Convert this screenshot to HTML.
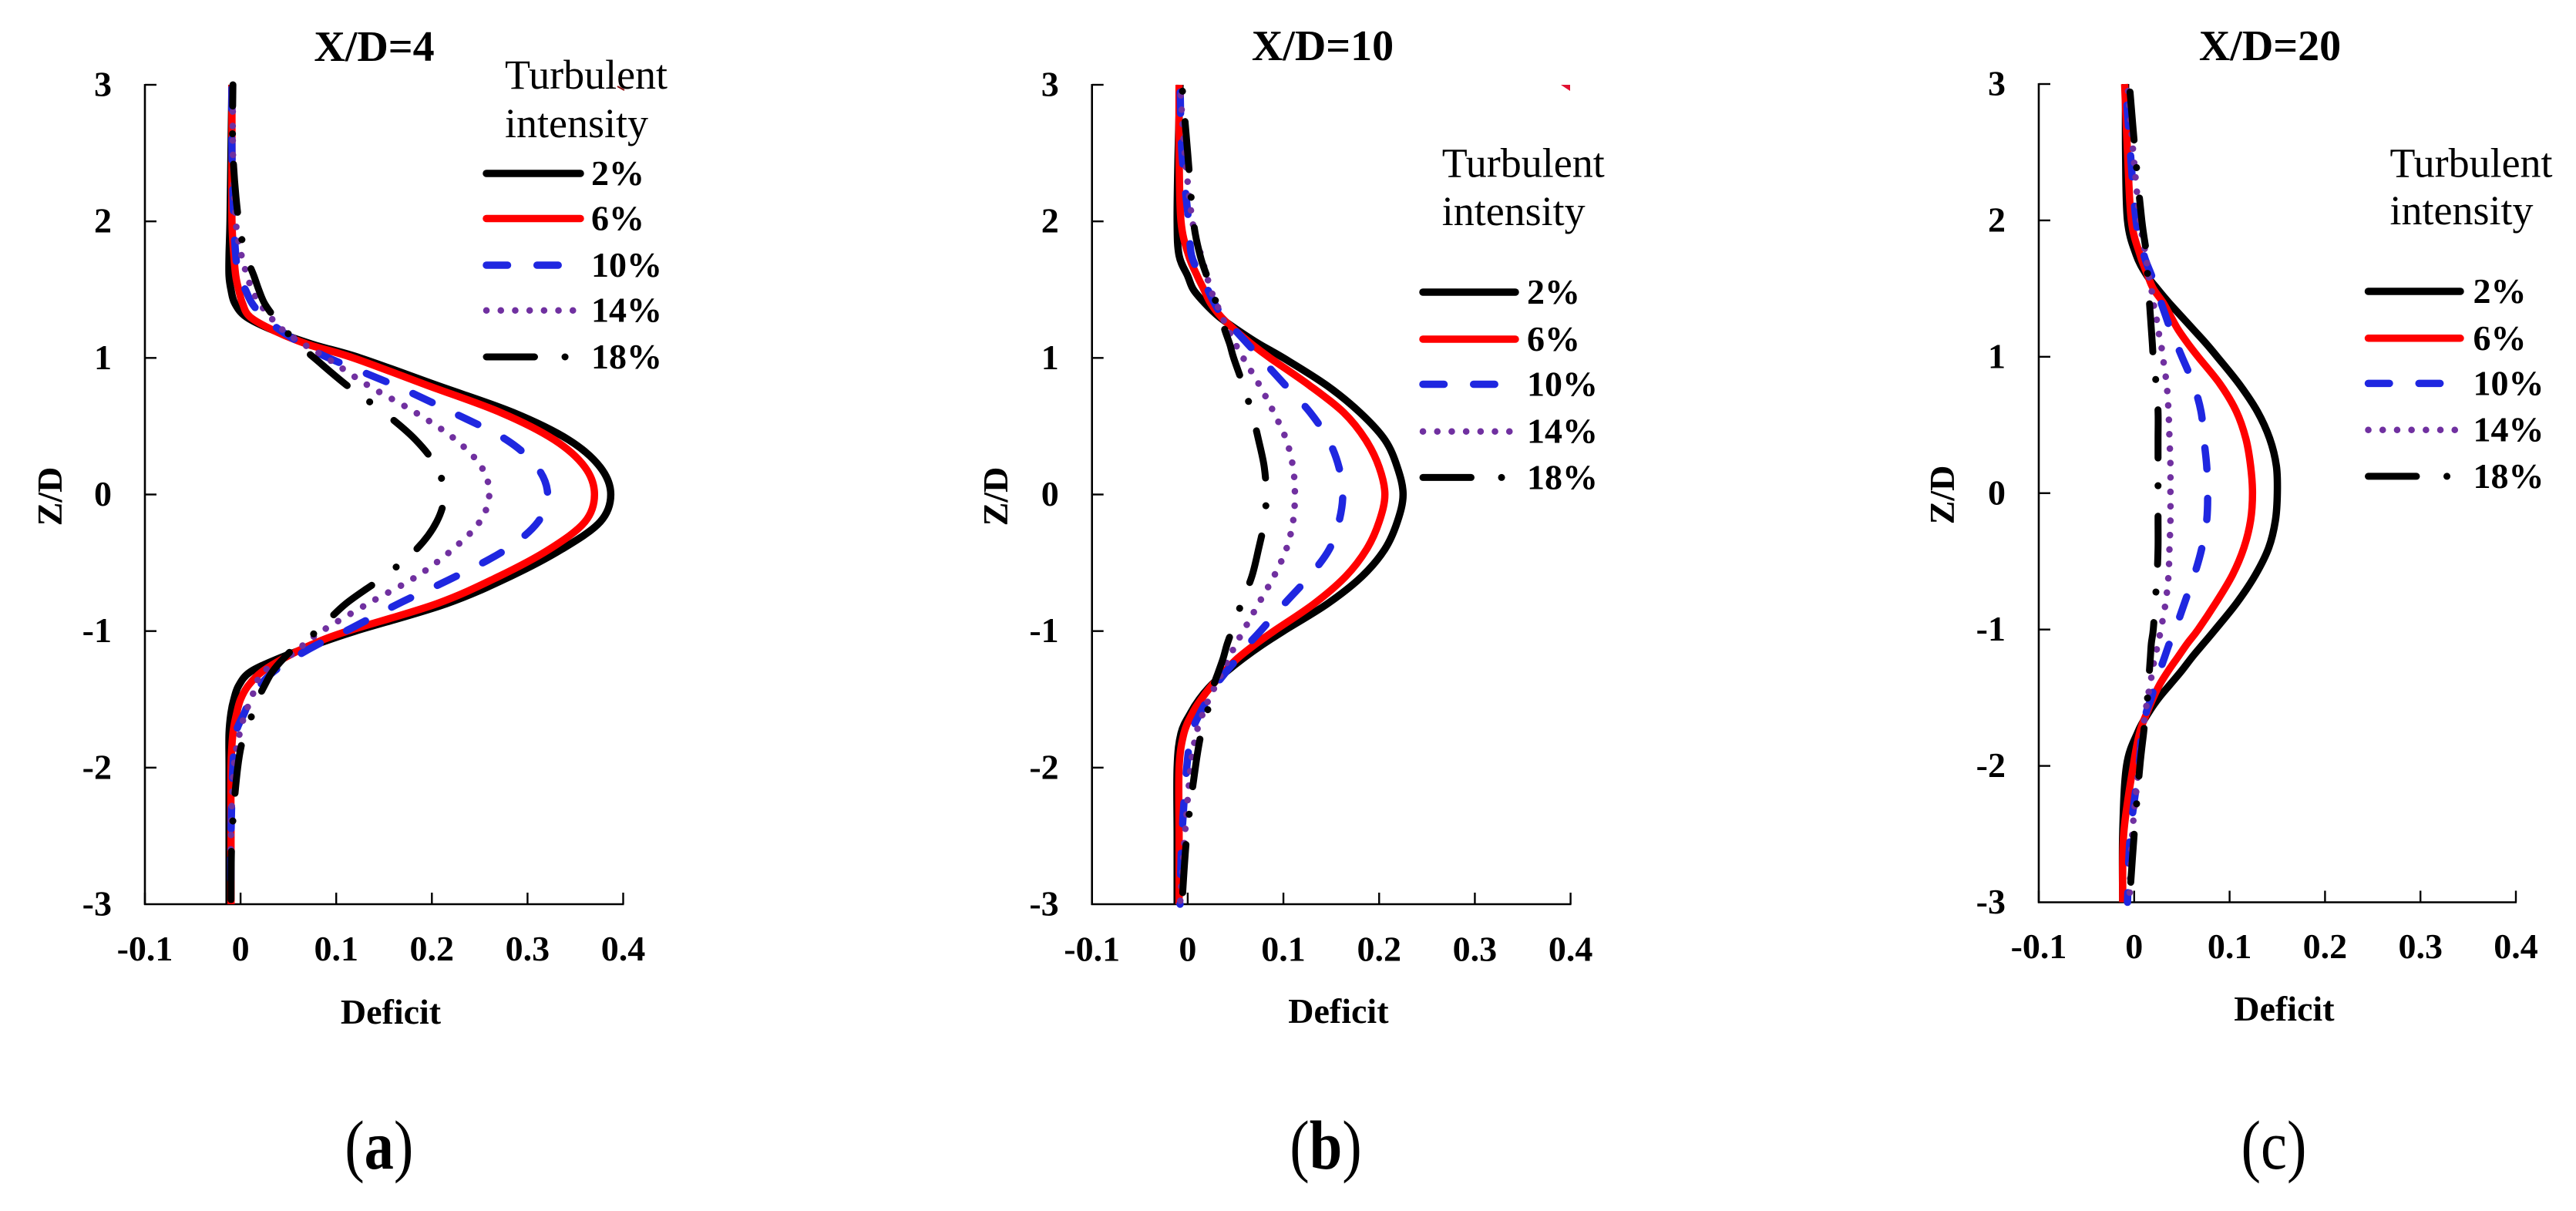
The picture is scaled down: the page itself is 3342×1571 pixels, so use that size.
<!DOCTYPE html>
<html lang="en">
<head>
<meta charset="utf-8">
<title>Deficit profiles by turbulent intensity</title>
<style>
html,body{margin:0;padding:0;background:#fff;}
svg{display:block;}
text{font-family:"Liberation Serif","Times New Roman",serif;fill:#000;}
</style>
</head>
<body>
<svg id="figure" xmlns="http://www.w3.org/2000/svg" width="3342" height="1571" viewBox="0 0 3342 1571"></svg>
<script>
// ---------- data ----------
const zGrid = [3,2.5,2,1.75,1.6,1.5,1.4,1.3,1.2,1.1,1,.8,.6,.4,.2,0,-.2,-.4,-.6,-.8,-1,-1.1,-1.2,-1.3,-1.4,-1.5,-1.6,-1.75,-2,-2.5,-3];
const xTickValues = [-0.1,0,0.1,0.2,0.3,0.4];
const xTickLabels = ['-0.1','0','0.1','0.2','0.3','0.4'];
const yTickValues = [3,2,1,0,-1,-2,-3];
const yTickLabels = ['3','2','1','0','-1','-2','-3'];
const seriesLabels = ['2%','6%','10%','14%','18%'];
const panelTitles = ['X/D=4','X/D=10','X/D=20'];
const panelLetters = ['a','b','c'];

const a2  = [-.009,-.010,-.011,-.012,-.012,-.010,-.006,.006,.035,.075,.125,.205,.285,.343,.376,.387,.376,.336,.282,.215,.120,.078,.040,.010,-.002,-.007,-.010,-.012,-.012,-.012,-.012];
const a6  = [-.009,-.009,-.009,-.007,-.005,-.002,.002,.010,.035,.070,.118,.195,.272,.328,.360,.370,.360,.323,.270,.205,.112,.074,.045,.022,.008,0,-.004,-.008,-.010,-.010,-.010];
const a10 = [-.009,-.009,-.007,-.005,-.002,.005,.012,.024,.042,.065,.092,.161,.222,.278,.310,.321,.311,.278,.225,.165,.110,.080,.055,.034,.020,.010,.004,-.005,-.008,-.010,-.010];
const a14 = [-.008,-.008,-.005,.001,.007,.012,.020,.031,.045,.066,.090,.133,.183,.225,.252,.260,.250,.222,.184,.133,.085,.066,.048,.023,.016,.011,.005,-.001,-.007,-.010,-.010];
const a18 = [-.008,-.008,-.002,.006,.014,.019,.025,.035,.047,.060,.077,.111,.150,.183,.205,.213,.205,.184,.150,.110,.080,.060,.045,.033,.025,.018,.013,.004,-.003,-.009,-.010];

const b2  = [-.008,-.010,-.011,-.009,0,.006,.018,.033,.053,.075,.100,.145,.180,.206,.219,.225,.219,.206,.182,.146,.100,.078,.058,.040,.024,.012,.003,-.007,-.011,-.011,-.011];
const b6  = [-.009,-.009,-.007,.001,.010,.017,.024,.035,.050,.067,.086,.127,.163,.186,.200,.206,.200,.187,.165,.132,.090,.070,.052,.038,.025,.014,.005,-.004,-.009,-.009,-.009];
const b10 = [-.008,-.006,.001,.004,.014,.021,.028,.037,.050,.063,.076,.102,.128,.147,.158,.162,.158,.148,.127,.101,.076,.063,.052,.040,.029,.021,.013,.004,-.001,-.006,-.008];
const b14 = [-.008,-.003,.005,.014,.020,.024,.030,.036,.043,.050,.058,.075,.090,.103,.110,.112,.110,.103,.090,.074,.058,.050,.043,.036,.029,.022,.016,.009,.003,-.003,-.008];
const b18 = [-.006,0,.006,.013,.020,.025,.030,.035,.039,.044,.048,.058,.067,.074,.080,.082,.080,.074,.067,.056,.046,.041,.037,.032,.027,.024,.020,.014,.008,-.001,-.006];

const c2  = [-.009,-.009,-.007,.002,.013,.024,.036,.049,.062,.075,.087,.110,.129,.142,.149,.150,.148,.141,.127,.108,.085,.073,.061,.050,.038,.026,.016,.004,-.008,-.012,-.012];
const c6  = [-.010,-.007,-.003,.006,.014,.020,.030,.038,.046,.056,.067,.090,.107,.117,.122,.124,.122,.115,.103,.086,.067,.056,.046,.036,.027,.020,.014,.006,-.001,-.011,-.012];
const c10 = [-.009,-.004,.002,.010,.018,.023,.028,.033,.038,.044,.050,.062,.070,.073,.076,.077,.076,.071,.063,.053,.043,.037,.032,.027,.022,.018,.013,.008,.005,-.004,-.007];
const c14 = [-.007,-.001,.006,.012,.015,.018,.020,.023,.025,.028,.030,.034,.036,.037,.038,.038,.038,.037,.036,.033,.028,.025,.022,.019,.017,.014,.012,.009,.005,-.002,-.005];
const c18 = [-.005,.001,.008,.013,.014,.015,.016,.017,.018,.019,.020,.023,.025,.025,.025,.025,.025,.025,.024,.022,.020,.018,.017,.016,.015,.014,.012,.010,.006,0,-.005];

const panelSeries = [[a2,a6,a10,a14,a18],[b2,b6,b10,b14,b18],[c2,c6,c10,c14,c18]];

// ---------- layout & style ----------
const panels = [
  {left:188, right:808.5, top:110, bottom:1173, xLabelY:1246, yLabelGap:43, deficitX:507, deficitY:1328, zdX:80, zdY:644, titleX:485.5, titleY:79,
   legTitleX:655, legTitleY:[115,178], legX1:631, legX2:753, legY:[225,283.5,344,402.7,463], legTextX:767, letterX:491.8, letterY:1516, dash:[-32,-15,-6]},
  {left:1416.7, right:2037.6, top:110, bottom:1173, xLabelY:1246.5, yLabelGap:43, deficitX:1736.4, deficitY:1327, zdX:1307, zdY:644, titleX:1716, titleY:78,
   legTitleX:1870.7, legTitleY:[229.6,292], legX1:1846, legX2:1966, legY:[379,440,498.5,559.7,619.4], legTextX:1981, letterX:1720, letterY:1516, dash:[-38.5,-4.5,-15]},
  {left:2645, right:3264, top:109, bottom:1170.5, xLabelY:1243, yLabelGap:43, deficitX:2963.4, deficitY:1324, zdX:2535, zdY:642, titleX:2945, titleY:78,
   legTitleX:3100.5, legTitleY:[229.6,291], legX1:3072.5, legX2:3192, legY:[378,438.8,497.4,557.7,617.9], legTextX:3208.5, letterX:2950, letterY:1516, dash:[-50.8,-12.5,-26]}
];
const seriesStyles = [
  {color:'#000000', width:9.5, dash:'none', cap:'butt'},
  {color:'#ff0000', width:9.5, dash:'none', cap:'butt'},
  {color:'#1f27e0', width:9.5, dash:'27.5 38.2', cap:'round'},
  {color:'#7030a0', width:8.5, dash:'0.1 18.6', cap:'round'},
  {color:'#000000', width:9, dash:'62.5 39.5 0.1 35.9', cap:'round'}
];
const seriesKeys = ['2pct','6pct','10pct','14pct','18pct'];

const NS = 'http://www.w3.org/2000/svg';
const root = document.getElementById('figure');
function make(tag, attrs, parent, text){
  const el = document.createElementNS(NS, tag);
  for (const k in attrs) el.setAttribute(k, attrs[k]);
  if (text !== undefined) el.textContent = text;
  parent.appendChild(el);
  return el;
}
function smoothPath(pts){
  let d = 'M' + pts[0][0].toFixed(2) + ' ' + pts[0][1].toFixed(2);
  for (let i = 0; i < pts.length - 1; i++){
    const p0 = pts[Math.max(i-1,0)], p1 = pts[i], p2 = pts[i+1], p3 = pts[Math.min(i+2,pts.length-1)];
    const c1x = p1[0] + (p2[0]-p0[0])/6, c1y = p1[1] + (p2[1]-p0[1])/6;
    const c2x = p2[0] - (p3[0]-p1[0])/6, c2y = p2[1] - (p3[1]-p1[1])/6;
    d += 'C' + c1x.toFixed(2) + ' ' + c1y.toFixed(2) + ' ' + c2x.toFixed(2) + ' ' + c2y.toFixed(2) + ' ' + p2[0].toFixed(2) + ' ' + p2[1].toFixed(2);
  }
  return d;
}

panels.forEach(function(p, pi){
  const xScale = v => p.left + (v + 0.1) / 0.5 * (p.right - p.left);
  const yScale = v => p.top + (3 - v) / 6 * (p.bottom - p.top);

  const g = make('g', {}, root);
  
  

  // title
  const title = make('text', {x:p.titleX, y:p.titleY, 'text-anchor':'middle', 'font-size':56, 'font-weight':'bold'}, g, panelTitles[pi]);
  
  

  // axes
  const yAxis = make('line', {x1:p.left, x2:p.left, y1:p.top-1, y2:p.bottom+1, stroke:'#000', 'stroke-width':2.6}, g);
  
  
  const xAxis = make('line', {x1:p.left-1, x2:p.right+1, y1:p.bottom, y2:p.bottom, stroke:'#000', 'stroke-width':2.6}, g);
  
  

  yTickValues.forEach(function(v, i){
    const y = yScale(v);
    if (v !== -3) {
      const t = make('line', {x1:p.left, x2:p.left+15, y1:y, y2:y, stroke:'#000', 'stroke-width':2.4}, g);
      
      
    }
    const l = make('text', {x:p.left-p.yLabelGap, y:y+14.5, 'text-anchor':'end', 'font-size':46, 'font-weight':'bold'}, g, yTickLabels[i]);
    
    
  });
  xTickValues.forEach(function(v, i){
    const x = xScale(v);
    const t = make('line', {x1:x, x2:x, y1:p.bottom, y2:p.bottom-15, stroke:'#000', 'stroke-width':2.4}, g);
    
    
    const l = make('text', {x:x, y:p.xLabelY, 'text-anchor':'middle', 'font-size':46, 'font-weight':'bold'}, g, xTickLabels[i]);
    
    
  });

  // axis titles
  const xt = make('text', {x:p.deficitX, y:p.deficitY, 'text-anchor':'middle', 'font-size':46, 'font-weight':'bold'}, g, 'Deficit');
  
  
  const yt = make('text', {transform:'translate(' + p.zdX + ',' + p.zdY + ') rotate(-90)', 'text-anchor':'middle', 'font-size':46, 'font-weight':'bold'}, g, 'Z/D');
  
  

  // curves (drawn from the bottom of the plot upward)
  panelSeries[pi].forEach(function(vals, si){
    const st = seriesStyles[si];
    const pts = [];
    for (let i = zGrid.length - 1; i >= 0; i--) pts.push([xScale(vals[i]), yScale(zGrid[i])]);
    const attrs = {d:smoothPath(pts), fill:'none', stroke:st.color, 'stroke-width':st.width, 'stroke-linecap':st.cap, 'stroke-linejoin':'round'};
    if (st.dash !== 'none') {
      attrs['stroke-dasharray'] = st.dash;
      attrs['stroke-dashoffset'] = p.dash[si-2];
    }
    const path = make('path', attrs, g);
    
    
  });

  // legend
  const lg = make('g', {}, g);
  
  
  const lt1 = make('text', {x:p.legTitleX, y:p.legTitleY[0], 'font-size':54}, lg, 'Turbulent');
  
  
  const lt2 = make('text', {x:p.legTitleX, y:p.legTitleY[1], 'font-size':54}, lg, 'intensity');
  
  
  seriesLabels.forEach(function(label, si){
    const st = seriesStyles[si];
    const y = p.legY[si];
    const attrs = {x1:p.legX1, x2:p.legX2, y1:y, y2:y, stroke:st.color, 'stroke-width':st.width, 'stroke-linecap':'round'};
    if (st.dash !== 'none') attrs['stroke-dasharray'] = st.dash;
    const sw = make('line', attrs, lg);
    
    
    const tx = make('text', {x:p.legTextX, y:y+15, 'font-size':46, 'font-weight':'bold'}, lg, label);
    
    
  });

  // sub-figure letter
  const bold = panelLetters[pi] !== 'c';
  const letter = make('text', {transform:'translate(' + p.letterX + ',' + p.letterY + ') scale(.85,1)', 'text-anchor':'middle', 'font-size':90}, g);
  
  
  make('tspan', {}, letter, '(');
  make('tspan', {'font-weight':bold ? 'bold' : 'normal'}, letter, panelLetters[pi]);
  make('tspan', {}, letter, ')');
});

// small stray marks present in the source figure
const strayA = make('path', {d:'M801 112 L810 117', stroke:'#8a1010', 'stroke-width':2, fill:'none'}, root);


const strayB = make('path', {d:'M2025 110 L2037 110 L2037 118 Z', fill:'#e01030'}, root);


</script>
</body>
</html>
